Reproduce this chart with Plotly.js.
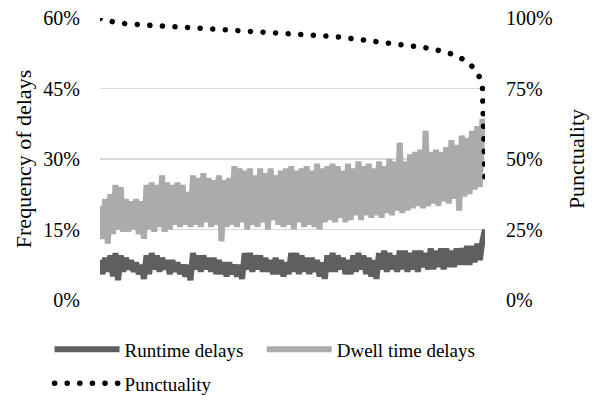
<!DOCTYPE html>
<html><head><meta charset="utf-8">
<script src="https://cdn.plot.ly/plotly-3.0.1.min.js"></script>
<style>html,body{margin:0;padding:0;background:#fff}</style>
</head><body><div id="chart" style="width:596px;height:401px"></div>
<script>
// Frequency of delays (%), one value per observation, left axis
const runtimeDelays = [
 8.5,5.5,9,6,9.5,5,10,4.2,9.5,6,
 9,6.5,8.5,6,8,5.5,7.5,4.5,9.5,5.5,
 10,6.5,9.5,6,9,6.5,8.5,5.5,8.5,6,
 8,5.5,7.5,5,7.5,4.2,10,6.5,9.5,6,
 9.5,6.5,9,6,9,5.5,8.5,5.5,8,5,
 8,5.5,7.5,5,7.5,4.5,10,6.5,10,6,
 9.5,6.5,9.5,6,9,6,8.5,5.5,9,5.5,
 8.5,5,8,5.5,10,6,10,5.5,9.5,6,
 9,5.5,9,6,8.5,5,8,4.5,9.5,6,
 10,6,9.5,6.5,9,5.5,8.5,5.5,9.5,6,
 10,6.5,9.5,5.5,9,5,8.5,4.5,10,6.5,
 10.5,6,10,6.5,9.5,6,10.5,6.5,10.5,6,
 10,6.5,10.5,6,10.5,7,10,6.5,11,6.5,
 10.5,7,11,6.5,11,7,10.5,7,11,7.5,
 11,7.5,11.5,7.5,11.5,8,12,8.5,12.5,15
];
const dwellDelays = [
 20,13,21.5,12,22.5,14,24.5,15,24,14.5,
 21.5,14.5,21,15,21.5,14,21,13,24.5,15,
 25,14.5,24.5,15.5,26.5,14.5,25,15,24.5,16,
 25,15.5,24.5,16,23,15.5,26.5,16,26,15.5,
 27,16.5,26,15.5,25.5,16,26.5,12.5,25.5,15.5,
 26,16,28.5,15.5,28,16.5,27.5,15,28,16,
 26.5,15.5,28,16.5,27,15,28,17,26.5,16,
 27.5,15.5,28,16,28.5,15,27.5,16.5,28,15.5,
 28.5,16,27.5,15.5,29,15,28,16.5,28.5,17,
 29,16.5,28.5,17.5,27.5,16.5,29,17,28,18,
 29.5,17,28.5,18,29,17.5,28,18,29.5,17.5,
 28.5,18.5,30,18,29.5,19,33.5,18.5,29.5,19,
 31,19.5,31.5,20,32,19.5,36,20,31.5,20.5,
 32,20,31.5,21,32.5,20.5,34,21.5,33,19,
 35,22,34.5,22.5,36,23.5,37,24,38.5,36
];
// Punctuality (%), right axis
const punctuality = [
 99.8,99.5,99.2,98.9,98.6,98.4,98.3,98.2,98.1,98.0,
 97.9,97.85,97.8,97.75,97.7,97.65,97.6,97.55,97.5,97.45,
 97.4,97.35,97.3,97.25,97.2,97.15,97.1,97.05,97.0,96.95,
 96.9,96.85,96.8,96.75,96.7,96.65,96.6,96.55,96.5,96.45,
 96.4,96.35,96.3,96.25,96.2,96.15,96.1,96.05,96.0,95.95,
 95.9,95.85,95.8,95.75,95.7,95.65,95.6,95.55,95.5,95.45,
 95.4,95.35,95.3,95.25,95.2,95.15,95.1,95.05,95.0,94.95,
 94.9,94.85,94.8,94.75,94.7,94.65,94.6,94.55,94.5,94.45,
 94.4,94.35,94.3,94.2,94.1,94.0,93.9,93.8,93.7,93.6,
 93.5,93.4,93.3,93.2,93.1,93.0,92.9,92.8,92.7,92.6,
 92.5,92.4,92.3,92.2,92.1,92.0,91.9,91.8,91.7,91.6,
 91.5,91.4,91.3,91.2,91.1,91.0,90.9,90.8,90.7,90.6,
 90.5,90.4,90.3,90.2,90.0,89.8,89.6,89.4,89.2,89.0,
 88.8,88.6,88.4,88.2,88.0,87.7,87.4,87.0,86.6,86.2,
 85.7,85.2,84.6,83.9,83.0,82.0,80.6,78.8,76.0,43.0
];
const seriesNames = ['Runtime delays', 'Dwell time delays', 'Punctuality'];
const leftTicks = [0, 15, 30, 45, 60];
const rightTicks = [0, 25, 50, 75, 100];

const obs = runtimeDelays.map((_, i) => i + 1);
const serif = 'Liberation Serif, Times New Roman, serif';

const traces = [
  {x: obs, y: runtimeDelays, name: seriesNames[0], type: 'scatter', mode: 'lines',
   line: {color: '#5f5f5f', width: 6}, legend: 'legend'},
  {x: obs, y: dwellDelays, name: seriesNames[1], type: 'scatter', mode: 'lines',
   line: {color: '#ababab', width: 6}, legend: 'legend3'},
  {x: obs, y: punctuality, name: seriesNames[2], type: 'scatter', mode: 'lines',
   yaxis: 'y2', line: {color: '#000', width: 5.5, dash: '1px,12px'}, legend: 'legend2'}
];

const legendFont = {family: serif, size: 19, color: '#000'};
const legendBase = {orientation: 'h', xanchor: 'left', yanchor: 'top', font: legendFont,
  itemwidth: 65, bgcolor: 'rgba(0,0,0,0)'};
const layout = {
  width: 596, height: 401,
  margin: {l: 100, r: 111, t: 18, b: 101, autoexpand: false},
  paper_bgcolor: '#fff', plot_bgcolor: '#fff',
  font: {family: serif, size: 20, color: '#000'},
  showlegend: true,
  legend: Object.assign({}, legendBase, {x: -0.131, y: -0.108}),
  legend3: Object.assign({}, legendBase, {x: 0.42, y: -0.108}),
  legend2: Object.assign({}, legendBase, {x: -0.131, y: -0.228}),
  xaxis: {range: [1, obs.length], showgrid: false, zeroline: false, showticklabels: false,
    showline: false, ticks: '', fixedrange: true},
  yaxis: {range: [0, 60], tickvals: leftTicks, ticktext: leftTicks.map(v => v + '%'),
    showgrid: true, gridcolor: '#d9d9d9', gridwidth: 1.5, zeroline: false, showline: false,
    ticks: 'outside', ticklen: 15, tickcolor: 'rgba(0,0,0,0)',
    tickfont: {family: serif, size: 20, color: '#000'},
    title: {text: 'Frequency of delays', font: {family: serif, size: 22, color: '#000'}, standoff: 5}},
  yaxis2: {range: [0, 100], tickvals: rightTicks, ticktext: rightTicks.map(v => v + '%'),
    overlaying: 'y', side: 'right', showgrid: false, zeroline: false, showline: false,
    ticks: 'outside', ticklen: 16, tickcolor: 'rgba(0,0,0,0)',
    tickfont: {family: serif, size: 20, color: '#000'},
    title: {text: 'Punctuality', font: {family: serif, size: 22, color: '#000'}, standoff: 16}}
};

function roundDots() {
  document.querySelectorAll('#chart path.js-line').forEach(p => {
    const da = p.style.strokeDasharray || '';
    if (da.indexOf('12') !== -1) {
      p.style.strokeLinecap = 'round';
      p.style.strokeDasharray = '0.1px,12.5px';
    }
  });
}

Plotly.newPlot('chart', traces, layout, {displayModeBar: false, staticPlot: true}).then(roundDots);
</script>
</body></html>
